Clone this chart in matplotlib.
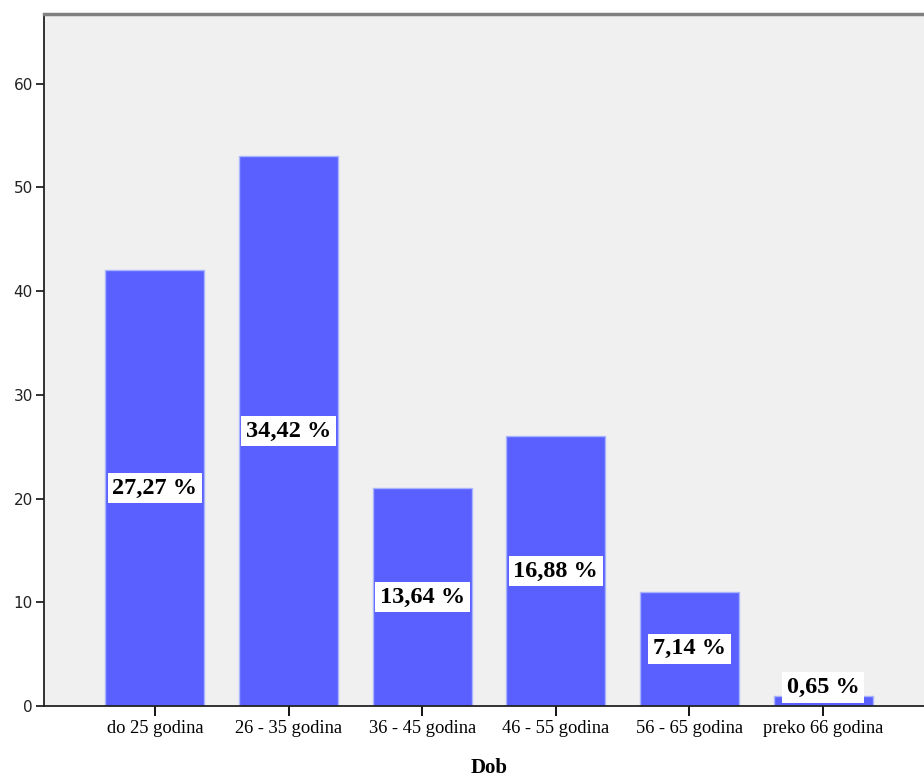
import numpy as np
import matplotlib.pyplot as plt

categories = ['do 25 godina', '26 - 35 godina', '36 - 45 godina',
              '46 - 55 godina', '56 - 65 godina', 'preko 66 godina']
counts = [42, 53, 21, 26, 11, 1]
percent_labels = ['27,27 %', '34,42 %', '13,64 %', '16,88 %', '7,14 %', '0,65 %']

fig = plt.figure(figsize=(9.24, 7.80), dpi=100)
ax = fig.add_axes([44 / 924, 1 - 706 / 780, 890 / 924, 692 / 780])
ax.set_facecolor('#f0f0f0')

x = np.arange(len(categories))
ax.bar(x, counts, width=0.74, color='#5a5fff', edgecolor='#a9b4ff', linewidth=1)

# labels sit in the middle of the bar, small bars get pushed up to the axis
for xi, c, lab in zip(x, counts, percent_labels):
    y = max(c / 2, 1.75)
    ax.text(xi, y, lab, ha='center', va='center', fontsize=17.5, fontweight='bold',
            family='Liberation Serif', color='black',
            bbox=dict(facecolor='white', edgecolor='none', pad=3.5))

ax.set_xlim(-0.83, 5.83)
ax.set_ylim(0, 66.7)
ax.set_yticks([0, 10, 20, 30, 40, 50, 60])
ax.set_xticks(x)
ax.set_xticklabels(categories, family='Liberation Serif', fontsize=13.3)
ax.tick_params(axis='y', labelsize=11, length=6, width=1.3, pad=2, colors='#222222')
ax.tick_params(axis='x', length=7, width=1.3, pad=3)
ax.set_xlabel('Dob', family='Liberation Serif', fontsize=15, fontweight='bold', labelpad=15)

ax.spines['right'].set_visible(False)
ax.spines['top'].set_color('#808080')
ax.spines['top'].set_linewidth(2.5)
ax.spines['left'].set_color('#222222')
ax.spines['left'].set_linewidth(1.3)
ax.spines['bottom'].set_color('#222222')
ax.spines['bottom'].set_linewidth(1.3)

fig.savefig('out.png', dpi=100)
